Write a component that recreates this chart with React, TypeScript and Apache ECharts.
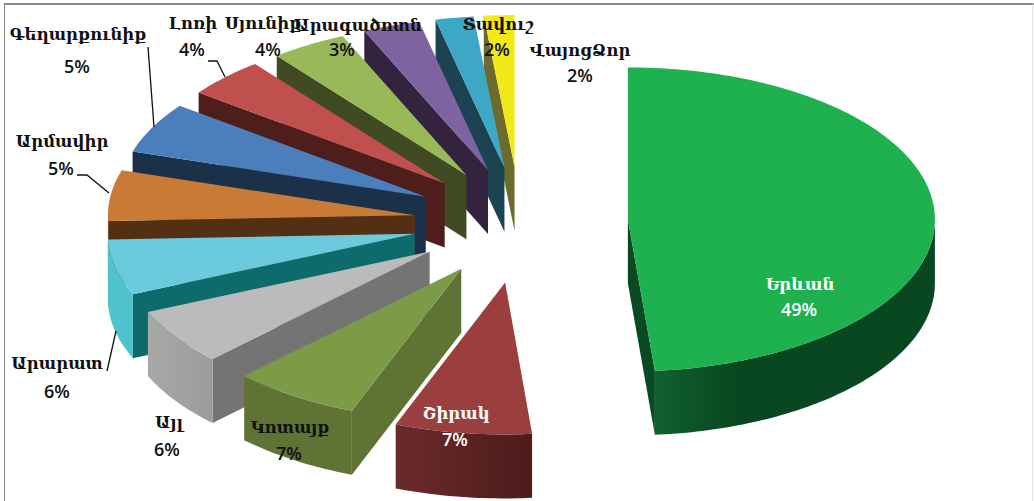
import React, { useEffect, useRef } from "react";
import * as echarts from "echarts";

const regionNames = ["Երևան", "Շիրակ", "Կոտայք", "Այլ", "Արարատ", "Արմավիր", "Գեղարքունիք", "Լոռի", "Սյունիք", "Արագածոտն", "Տավուշ", "ՎայոցՁոր"];
const shares = [48.6, 7.2, 6.7, 6.0, 5.9, 5.4, 5.4, 4.2, 4.0, 3.0, 2.0, 1.6];
const topColors = ["#1fb14f", "#9b3f3e", "#7c9b46", "#bbbbbb", "#6bcbdc", "#c97a35", "#4a7ebd", "#bf504e", "#99b858", "#7f63a1", "#3da8c5", "#f2ea16"];
const wallColors = ["#0a4a22", "#5e2624", "#5f7335", "#747474", "#0e6b6b", "#532f14", "#1b3149", "#4d1e1b", "#414b23", "#33233f", "#1c4352", "#6c6a2c"];
const rimFrom = ["#11602f", "#6b2a2a", "#5f7335", "#a8a8a6", "#4fc3cc", "#8a5a30", "#1b3149", "#4d1e1b", "#414b23", "#33233f", "#1c4352", "#6c6a2c"];
const rimTo = ["#08471f", "#4d1c1b", "#5f7335", "#9c9c9a", "#4fc3cc", "#8a5a30", "#1b3149", "#4d1e1b", "#414b23", "#33233f", "#1c4352", "#6c6a2c"];
const rimStop = [0.3, 1, 1, 1, 1, 1, 1, 1, 1, 1, 1, 1];

const CENTER = { x: 520, y: 222 };
const EXPLODE = { x: 108, y: 58 };
const RADIUS = { x: 307, y: 152 };
const DEPTH = 64;
// small perspective corrections of each exploded slice
const nudgeX = [0, 0, 0, -1, 0, 2, 2, 2, 2, 2, 2, 0];
const nudgeY = [0, 3, -2, -3, -1, 1, 1, 2, 3, 3, 3, 3];

// label layout: [name x, name y, percent x, percent y, name color]
const labelLayout: [number, number, number, number, string][] = [
  [800, 284, 799, 309, "#ffffff"],
  [456, 413, 455, 439, "#ffffff"],
  [290, 427, 289, 453, "#111111"],
  [169, 422, 167, 449, "#111111"],
  [57, 363, 57, 391, "#111111"],
  [62, 141, 61, 168, "#111111"],
  [78, 34, 77, 66, "#111111"],
  [193, 23, 192, 49, "#111111"],
  [263, 23, 268, 49, "#111111"],
  [358, 25, 342, 49, "#111111"],
  [498, 24, 497, 49, "#111111"],
  [580, 50, 580, 75, "#111111"],
];
const leaders: Record<number, number[][]> = {
  4: [[107, 371], [116, 331]],
  5: [[77, 175], [87, 175], [109, 193]],
  6: [[148, 47], [154, 127]],
  7: [[208, 61], [217, 61], [225, 77]],
};

const total = shares.reduce((a, b) => a + b, 0);
let running = 0;
const sliceRows = shares.map((v, i) => {
  const start = (running / total) * 360;
  running += v;
  const end = (running / total) * 360;
  return [start, end, i];
});
const rad = (d: number) => (d * Math.PI) / 180;
const apexOf = (start: number, end: number, i: number) => {
  const m = rad((start + end) / 2);
  return {
    x: CENTER.x + EXPLODE.x * Math.sin(m) + nudgeX[i],
    y: CENTER.y - EXPLODE.y * Math.cos(m) + nudgeY[i],
  };
};
// painter's order: back slices first
const orderedRows = [...sliceRows].sort(
  (a, b) => apexOf(a[0], a[1], a[2]).y - apexOf(b[0], b[1], b[2]).y
);

function renderSlice(_: any, api: any) {
  const start = api.value(0) as number;
  const end = api.value(1) as number;
  const i = api.value(2) as number;
  const apex = apexOf(start, end, i);
  const at = (deg: number, dy = 0) => [
    apex.x + RADIUS.x * Math.sin(rad(deg)),
    apex.y - RADIUS.y * Math.cos(rad(deg)) + dy,
  ];
  const children: any[] = [];
  const wall = (deg: number) => {
    const p = at(deg);
    children.push({
      type: "polygon",
      shape: { points: [[apex.x, apex.y], p, [p[0], p[1] + DEPTH], [apex.x, apex.y + DEPTH]] },
      style: { fill: wallColors[i] },
    });
  };
  if (Math.sin(rad(start)) < 0) wall(start);
  if (Math.sin(rad(end)) > 0) wall(end);
  const a0 = Math.max(start, 90);
  const a1 = Math.min(end, 270);
  if (a1 > a0) {
    const upper: number[][] = [];
    const lower: number[][] = [];
    for (let d = a0; d < a1; d += 1) {
      upper.push(at(d));
      lower.unshift(at(d, DEPTH));
    }
    upper.push(at(a1));
    lower.unshift(at(a1, DEPTH));
    // the shading runs left to right along the rim
    children.push({
      type: "polygon",
      shape: { points: [...upper, ...lower] },
      style: {
        fill: new echarts.graphic.LinearGradient(0, 0, 1, 0, [
          { offset: 0, color: rimFrom[i] },
          { offset: rimStop[i], color: rimTo[i] },
          { offset: 1, color: rimTo[i] },
        ]),
      },
    });
  }
  const top: number[][] = [[apex.x, apex.y]];
  for (let d = start; d < end; d += 1) top.push(at(d));
  top.push(at(end));
  children.push({ type: "polygon", shape: { points: top }, style: { fill: topColors[i] } });
  return { type: "group", children };
}

function renderLabel(_: any, api: any) {
  const i = api.value(0) as number;
  const [nx, ny, px, py, color] = labelLayout[i];
  const children: any[] = [
    {
      type: "text",
      x: nx,
      y: ny,
      style: {
        text: regionNames[i],
        fill: color,
        font: "bold 16.5px 'DejaVu Serif'",
        align: "center",
        verticalAlign: "middle",
      },
    },
    {
      type: "text",
      x: px,
      y: py,
      style: {
        text: `${Math.round(shares[i])}%`,
        fill: color,
        font: "600 18px 'Open Sans'",
        align: "center",
        verticalAlign: "middle",
      },
    },
  ];
  if (leaders[i]) {
    children.push({
      type: "polyline",
      shape: { points: leaders[i] },
      style: { stroke: "#111111", lineWidth: 1.3, fill: "none" },
    });
  }
  return { type: "group", children };
}

export default function App() {
  const ref = useRef<HTMLDivElement>(null);
  useEffect(() => {
    document.body.style.margin = "0";
    const chart = echarts.init(ref.current!, undefined, { renderer: "svg" });
    chart.setOption({
      animation: false,
      backgroundColor: "#ffffff",
      graphic: [
        { type: "line", shape: { x1: 4, y1: 4, x2: 1034, y2: 4 }, style: { stroke: "#8a8a8a", lineWidth: 2 } },
        { type: "line", shape: { x1: 4.5, y1: 4, x2: 4.5, y2: 501 }, style: { stroke: "#8a8a8a", lineWidth: 1 } },
        { type: "line", shape: { x1: 1032.5, y1: 4, x2: 1032.5, y2: 501 }, style: { stroke: "#e4e4e4", lineWidth: 1 } },
      ],
      series: [
        {
          type: "custom",
          coordinateSystem: "none",
          renderItem: renderSlice,
          data: orderedRows,
          silent: true,
          z: 2,
        },
        {
          type: "custom",
          coordinateSystem: "none",
          renderItem: renderLabel,
          data: regionNames.map((_, i) => [i]),
          silent: true,
          z: 3,
        },
      ],
    });
    return () => chart.dispose();
  }, []);
  return <div ref={ref} style={{ width: 1034, height: 501 }} />;
}
